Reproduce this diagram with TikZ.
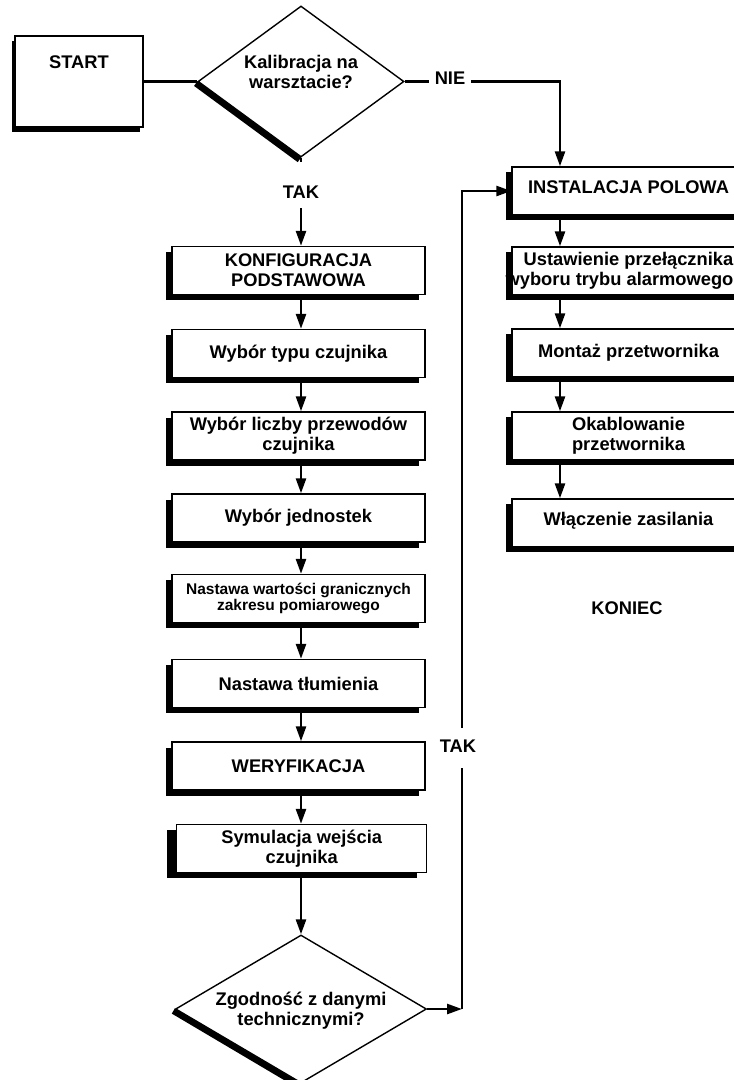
\documentclass[tikz,border=0pt]{standalone}
\usepackage{fontspec}
\setmainfont{Liberation Sans}
\usetikzlibrary{shapes.geometric,arrows.meta,shadows,calc,backgrounds}
\begin{document}
\begin{tikzpicture}[x=1pt,y=-1pt,
  every node/.style={font=\fontsize{18.3}{20}\selectfont\bfseries},
  shd/.style 2 args={drop shadow={shadow xshift=#1, shadow yshift=#2, fill=black, opacity=1}},
  boxbase/.style={draw, line width=1.4pt, fill=white, minimum height=48pt, inner xsep=1pt, inner ysep=0pt, align=center},
  lbox/.style={boxbase, minimum width=253pt, shd={-6.5pt}{-5.5pt}},
  rbox/.style={boxbase, minimum width=233pt, shd={-6pt}{-5pt}},
  dia/.style={draw, diamond, line width=1.4pt, fill=white, inner sep=0pt},
  conn/.style={line width=2.6pt},
  arr/.style={-{Triangle[length=15pt,width=10pt]}},
  dshadow/.style={line width=6pt},
  txt/.style={align=center, inner sep=0pt},
]
\useasboundingbox (0,0) rectangle (734,1080);

% helper coordinates for connector columns
\coordinate (ax) at (301,0);
\coordinate (bx) at (560,0);
\coordinate (cx) at (462,0);

% start and first decision
\node[boxbase, minimum width=128pt, minimum height=91pt, shd={-3pt}{-5pt}] (start) at (79,81.5) {};
\node[txt] (starttxt) at (79,62) {START};
\node[dia, minimum width=206pt, minimum height=151pt] (d1) at (301,81.5) {};
\node[txt] (d1txt) at (301,72) {Kalibracja na\\warsztacie?};

% left column
\node[lbox] (konf) at (298.5,270.5) {KONFIGURACJA\\PODSTAWOWA};
\node[lbox] (typ)  at (298.5,353.5) {Wybór typu czujnika};
\node[lbox] (licz) at (298.5,436)   {Wybór liczby przewodów\\czujnika};
\node[lbox] (jedn) at (298.5,518)   {Wybór jednostek};
\node[lbox, font=\fontsize{15.5}{16.5}\selectfont\bfseries] (nast) at (298.5,598.5) {Nastawa wartości granicznych\\zakresu pomiarowego};
\node[lbox] (tlum) at (298.5,683.5) {Nastawa tłumienia};
\node[lbox] (wer)  at (298.5,766)   {WERYFIKACJA};
\node[boxbase, minimum width=250pt, shd={-10pt}{-5pt}] (sym) at (301.7,848.5) {Symulacja wejścia\\czujnika};

% bottom decision
\node[dia, minimum width=251pt, minimum height=148pt] (d2) at (301,1009) {};
\node[txt] (d2txt) at (301,1011) {Zgodność z danymi\\technicznymi?};

% right column
\node[rbox, text height=13pt, text depth=9pt] (ins) at (628.5,191) {INSTALACJA POLOWA};
\node[rbox] (ust)  at (628.5,271) {Ustawienie przełącznika\\\hspace*{-18pt}wyboru trybu alarmowego};
\node[rbox] (mont) at (628.5,353) {Montaż przetwornika};
\node[rbox] (okab) at (628.5,436) {Okablowanie\\przetwornika};
\node[rbox, text height=13pt, text depth=9pt] (wlacz) at (628.5,523) {Włączenie zasilania};
\node[txt] (koniec) at (627,608) {KONIEC};

% diamond shadows
\begin{scope}[on background layer]
  \draw[dshadow] ($(d1.west)+(-1.5,2.0)$) -- ($(d1.south)+(-1.5,2.0)$);
  \draw[dshadow] ($(d2.west)+(-1.5,2.0)$) -- ($(d2.south)+(-1.5,2.0)$);
\end{scope}

% labels
\node[fill=white, inner xsep=6pt, inner ysep=0pt] (nie) at (450,78) {NIE};
\node[inner sep=0pt, text height=36pt, text depth=10pt, anchor=base] (tak1) at (301,198) {TAK};
\node[inner sep=0pt, text height=24pt, text depth=16pt, anchor=base] (tak2) at (458,752) {TAK};

% connectors
\draw[conn] (start.east) -- (d1.west);
\draw[conn] (d1.east) -- (nie.west |- d1.east);
\draw[conn, arr] (nie.east |- d1.east) -- (d1.east -| bx) -- (ins.north -| bx);
\draw[conn] (d1.south) -- (tak1.north -| d1.south);
\draw[conn, arr] (tak1.south -| ax) -- (konf.north -| ax);
\draw[conn, arr] (konf.south -| ax) -- (typ.north -| ax);
\draw[conn, arr] (typ.south -| ax) -- (licz.north -| ax);
\draw[conn, arr] (licz.south -| ax) -- (jedn.north -| ax);
\draw[conn, arr] (jedn.south -| ax) -- (nast.north -| ax);
\draw[conn, arr] (nast.south -| ax) -- (tlum.north -| ax);
\draw[conn, arr] (tlum.south -| ax) -- (wer.north -| ax);
\draw[conn, arr] (wer.south -| ax) -- (sym.north -| ax);
\draw[conn, arr] (sym.south -| ax) -- (d2.north);
\draw[conn, arr] (d2.east) -- (d2.east -| cx);
\draw[conn] (d2.east -| cx) -- (tak2.south -| cx);
\draw[conn, arr] (tak2.north -| cx) -- (ins.west -| cx) -- (ins.west);
\draw[conn, arr] (ins.south -| bx) -- (ust.north -| bx);
\draw[conn, arr] (ust.south -| bx) -- (mont.north -| bx);
\draw[conn, arr] (mont.south -| bx) -- (okab.north -| bx);
\draw[conn, arr] (okab.south -| bx) -- (wlacz.north -| bx);
\end{tikzpicture}
\end{document}
